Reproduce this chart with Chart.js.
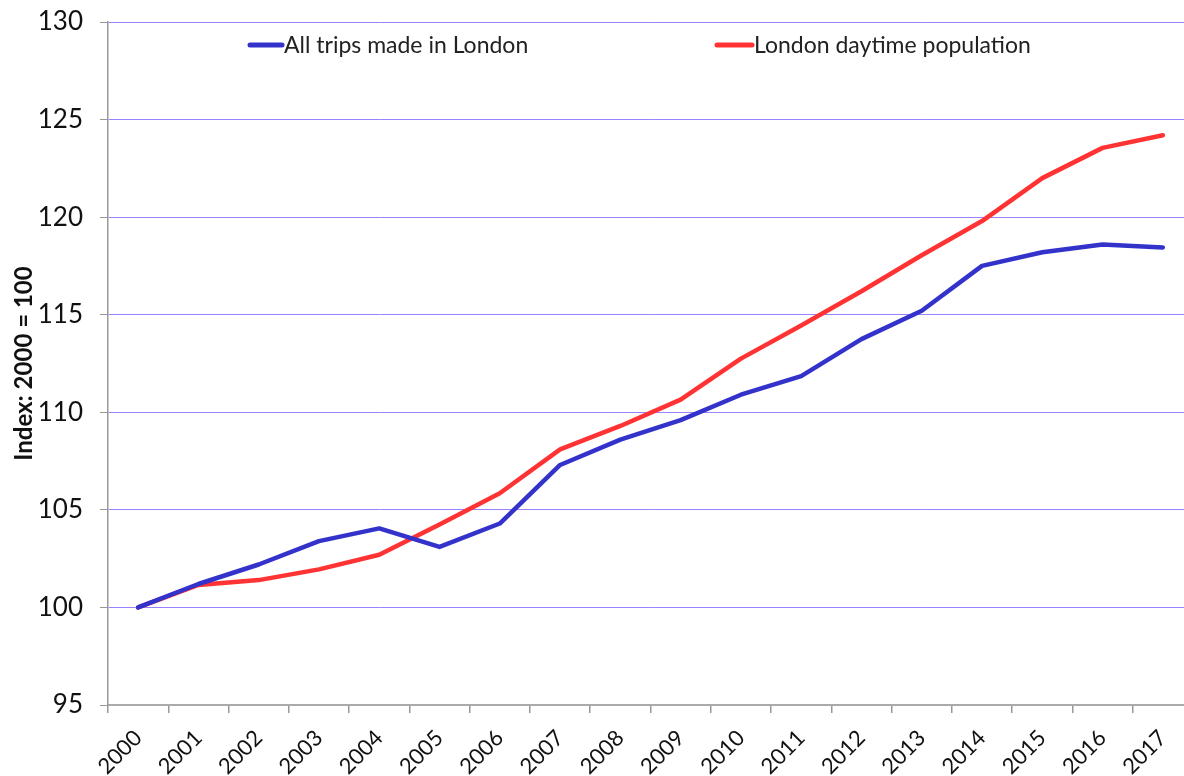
<!DOCTYPE html>
<html>
<head>
<meta charset="utf-8">
<script src="https://cdn.jsdelivr.net/npm/chart.js@4"></script>
<style>
  html, body { margin: 0; padding: 0; background: #fff; overflow: hidden; }
  canvas { display: block; }
</style>
</head>
<body>
<canvas id="chart" width="1196" height="776"></canvas>
<script>
const years = ["2000", "2001", "2002", "2003", "2004", "2005", "2006", "2007", "2008",
  "2009", "2010", "2011", "2012", "2013", "2014", "2015", "2016", "2017"];
const allTrips = [100, 101.2, 102.2, 103.4, 104.05, 103.1, 104.3, 107.3, 108.6,
  109.6, 110.9, 111.85, 113.75, 115.2, 117.5, 118.2, 118.6, 118.45];
const daytimePop = [100, 101.15, 101.4, 101.95, 102.7, 104.25, 105.85, 108.1, 109.3,
  110.65, 112.75, 114.45, 116.2, 118.05, 119.8, 122.0, 123.55, 124.2];

const FONT = "Lato, 'Open Sans', sans-serif";

// legend drawn inside the plot area, two items spread apart like the original
const insideLegend = {
  id: "insideLegend",
  afterDraw(chart) {
    const { ctx, chartArea } = chart;
    const starts = [chartArea.left + 142, chartArea.left + 609];
    const lens = [32, 35];
    const y = chartArea.top + 23;
    ctx.save();
    ctx.font = "23px " + FONT;
    ctx.textBaseline = "middle";
    chart.data.datasets.forEach((ds, i) => {
      const x = starts[i];
      ctx.strokeStyle = ds.borderColor;
      ctx.lineWidth = 5;
      ctx.lineCap = "round";
      ctx.beginPath();
      ctx.moveTo(x, y);
      ctx.lineTo(x + lens[i], y);
      ctx.stroke();
      ctx.fillStyle = "#222";
      ctx.fillText(ds.label, x + lens[i] + 2, y + 1);
    });
    ctx.restore();
  },
};

new Chart(document.getElementById("chart"), {
  type: "line",
  data: {
    labels: years,
    datasets: [
      {
        label: "All trips made in London",
        data: allTrips,
        borderColor: "#3333cc",
        backgroundColor: "#3333cc",
        borderWidth: 4.5,
        pointRadius: 0,
        tension: 0,
        borderCapStyle: "round",
        borderJoinStyle: "round",
      },
      {
        label: "London daytime population",
        data: daytimePop,
        borderColor: "#ff3333",
        backgroundColor: "#ff3333",
        borderWidth: 4.5,
        pointRadius: 0,
        tension: 0,
        borderCapStyle: "round",
        borderJoinStyle: "round",
      },
    ],
  },
  options: {
    responsive: false,
    animation: false,
    layout: { padding: { top: 22, right: 3, left: 0, bottom: 0 } },
    plugins: {
      legend: { display: false },
      tooltip: { enabled: false },
    },
    scales: {
      x: {
        offset: true,
        grid: {
          offset: true,
          drawOnChartArea: false,
          color: "#999",
          tickLength: 8,
          lineWidth: 1.5,
        },
        border: { color: "#aaa", width: 2 },
        ticks: {
          color: "#111",
          font: { family: FONT, size: 22 },
          minRotation: 45,
          maxRotation: 45,
          padding: 12,
        },
        afterFit(scale) { scale.height = 71; },
      },
      y: {
        min: 95,
        max: 130,
        ticks: {
          stepSize: 5,
          color: "#111",
          font: { family: FONT, size: 26 },
          padding: 17,
        },
        grid: {
          color: "#9b80ff",
          lineWidth: 1,
          borderDash: [1, 2],
          tickColor: "#999",
          tickBorderDash: [],
          tickLength: 8,
        },
        border: { color: "#999", width: 1.5 },
        title: {
          display: true,
          text: "Index: 2000 = 100",
          color: "#111",
          font: { family: FONT, size: 24, weight: "bold" },
          padding: { top: 10, bottom: 0 },
        },
        afterFit(scale) {
          scale.width = 108;
          // tick padding would otherwise push the plot top down
          scale.paddingTop = 0;
          scale.paddingBottom = 0;
        },
      },
    },
  },
  plugins: [insideLegend],
});
</script>
</body>
</html>
